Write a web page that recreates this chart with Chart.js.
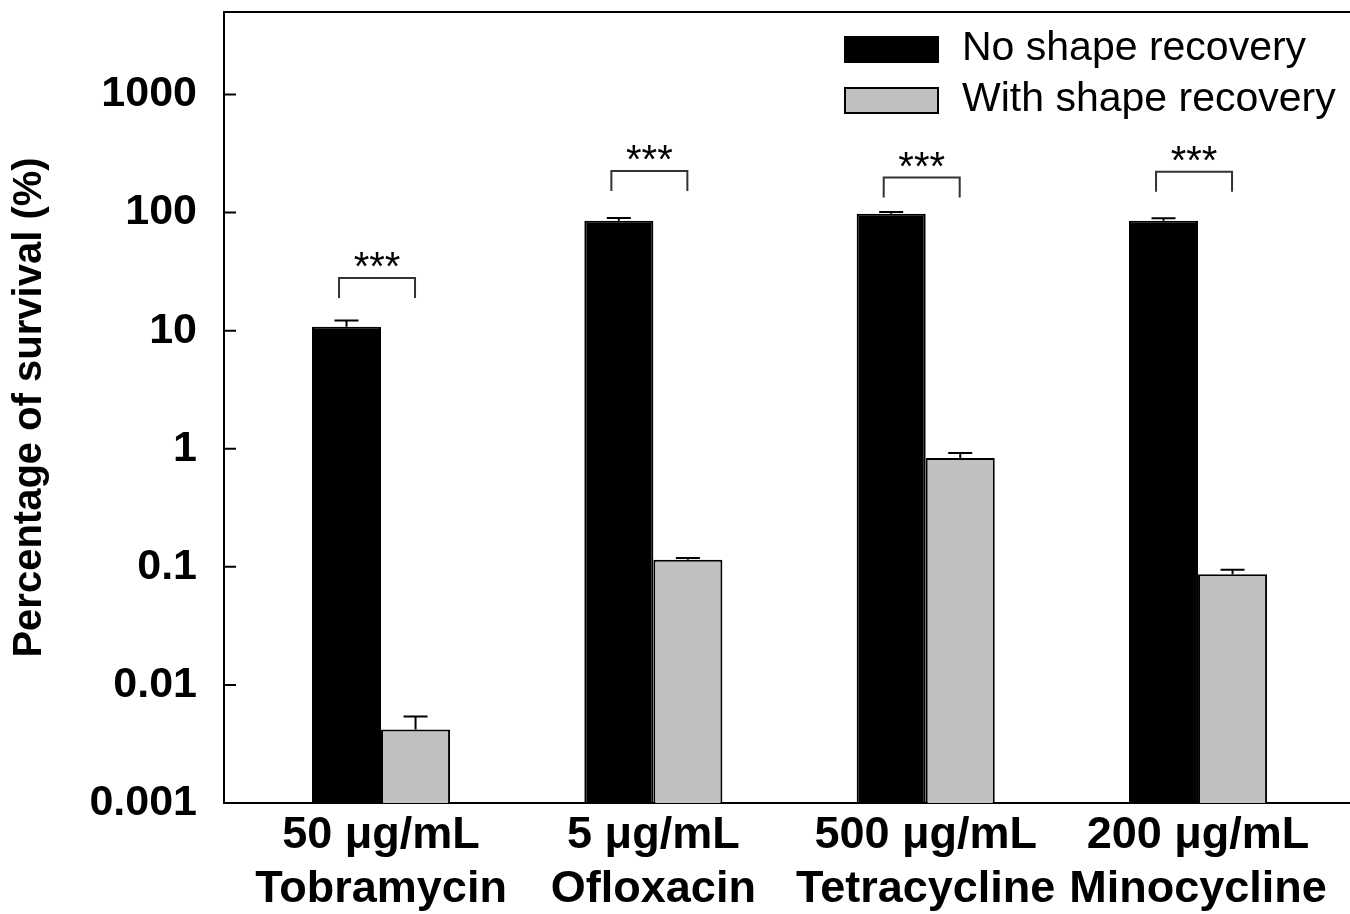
<!DOCTYPE html>
<html>
<head>
<meta charset="utf-8">
<script src="https://cdn.jsdelivr.net/npm/chart.js@4.4.1/dist/chart.umd.min.js"></script>
<style>
  html, body { margin: 0; padding: 0; background: #fff; }
  #wrap { width: 1350px; height: 914px; }
</style>
</head>
<body>
<div id="wrap"><canvas id="survival_plot"></canvas></div>
<script>
'use strict';

// Data
const doses = ['50 μg/mL', '5 μg/mL', '500 μg/mL', '200 μg/mL'];
const drugs = ['Tobramycin', 'Ofloxacin', 'Tetracycline', 'Minocycline'];
const positions = [1, 2, 3, 4];

const noRecovery = [10.8, 85.5, 98, 85.5];
const noRecoveryErr = [1.4, 4.5, 3.4, 4.3];
const withRecovery = [0.0042, 0.115, 0.834, 0.0867];
const withRecoveryErr = [0.0012, 0.004, 0.086, 0.0077];

// significance brackets (height in % survival)
const bracketLevels = [28, 225, 198, 222];
const significance = ['***', '***', '***', '***'];

const yTicks = [0.001, 0.01, 0.1, 1, 10, 100, 1000];
const legendLabels = ['No shape recovery', 'With shape recovery'];
const barColors = ['#000000', '#c0c0c0'];

const FONT = '"Liberation Sans", Arial, sans-serif';

// error bars, brackets, inward ticks, top frame and legend
const extras = {
    id: 'extras',
    afterDatasetsDraw(chart) {
        const ctx = chart.ctx;
        const area = chart.chartArea;
        const xs = chart.scales.x;
        const ys = chart.scales.y;
        ctx.save();
        ctx.strokeStyle = '#000';
        ctx.lineWidth = 2;

        // error bars
        [noRecoveryErr, withRecoveryErr].forEach((errs, di) => {
            const meta = chart.getDatasetMeta(di);
            const vals = chart.data.datasets[di].data;
            meta.data.forEach((bar, i) => {
                const top = ys.getPixelForValue(vals[i].y + errs[i]);
                ctx.beginPath();
                ctx.moveTo(bar.x, bar.y);
                ctx.lineTo(bar.x, top);
                ctx.moveTo(bar.x - 12, top);
                ctx.lineTo(bar.x + 12, top);
                ctx.stroke();
            });
        });

        // brackets + stars
        ctx.strokeStyle = '#333';
        ctx.fillStyle = '#000';
        ctx.font = '40px ' + FONT;
        ctx.textAlign = 'center';
        ctx.textBaseline = 'alphabetic';
        positions.forEach((p, i) => {
            const cx = xs.getPixelForValue(p) - 4;
            const by = ys.getPixelForValue(bracketLevels[i]);
            ctx.beginPath();
            ctx.moveTo(cx - 38, by + 20);
            ctx.lineTo(cx - 38, by);
            ctx.lineTo(cx + 38, by);
            ctx.lineTo(cx + 38, by + 20);
            ctx.stroke();
            ctx.fillText(significance[i], cx, by + 2);
        });

        // inward ticks on y axis
        ctx.strokeStyle = '#000';
        ctx.beginPath();
        yTicks.forEach(v => {
            const py = ys.getPixelForValue(v);
            ctx.moveTo(area.left, py);
            ctx.lineTo(area.left + 12, py);
        });
        // top frame
        ctx.moveTo(area.left - 1, area.top);
        ctx.lineTo(area.right, area.top);
        ctx.stroke();

        // legend
        ctx.font = '41px ' + FONT;
        ctx.textAlign = 'left';
        ctx.textBaseline = 'middle';
        legendLabels.forEach((label, i) => {
            const bx = area.right - 505;
            const byTop = area.top + 25 + i * 51;
            ctx.fillStyle = barColors[i];
            ctx.fillRect(bx, byTop, 93, 25);
            ctx.strokeRect(bx, byTop, 93, 25);
            ctx.fillStyle = '#000';
            ctx.fillText(label, area.right - 388, byTop + 12);
        });
        ctx.restore();
    }
};

const datasets = [
    {
        label: legendLabels[0],
        data: positions.map((x, i) => ({ x: x, y: noRecovery[i] })),
        backgroundColor: barColors[0],
        borderColor: '#000',
        borderWidth: 2
    },
    {
        label: legendLabels[1],
        data: positions.map((x, i) => ({ x: x, y: withRecovery[i] })),
        backgroundColor: barColors[1],
        borderColor: '#000',
        borderWidth: 2
    }
];

const config = {
    type: 'bar',
    data: { datasets: datasets },
    options: {
        responsive: true,
        maintainAspectRatio: false,
        animation: false,
        devicePixelRatio: 1,
        layout: { padding: { top: 12, left: 0, right: 0, bottom: 0 } },
        datasets: {
            bar: { barPercentage: 1, categoryPercentage: 0.507, borderSkipped: 'bottom' }
        },
        plugins: {
            legend: { display: false },
            tooltip: { enabled: false }
        },
        scales: {
            x: {
                type: 'linear',
                min: 0.4234,
                max: 4.558,
                offset: false,
                grid: { display: false, offset: false, drawTicks: false },
                border: { display: true, color: '#000', width: 2 },
                afterBuildTicks: s => { s.ticks = positions.map(v => ({ value: v })); },
                afterFit: s => { s.height = 111; s.paddingLeft = 0; s.paddingRight = 0; },
                ticks: {
                    autoSkip: false,
                    maxRotation: 0,
                    padding: 6,
                    color: '#000',
                    font: { family: FONT, size: 45, weight: 'bold', lineHeight: 1.2 },
                    callback: v => {
                        const i = positions.indexOf(v);
                        return i < 0 ? null : [doses[i], drugs[i]];
                    }
                }
            },
            y: {
                type: 'logarithmic',
                min: 0.001,
                max: 5000,
                grid: { display: false, drawTicks: false },
                border: { display: true, color: '#000', width: 2 },
                afterBuildTicks: s => { s.ticks = yTicks.map(v => ({ value: v })); },
                afterFit: s => { s.width = 224; s.paddingTop = 0; s.paddingBottom = 0; },
                ticks: {
                    padding: 27,
                    color: '#000',
                    font: { family: FONT, size: 43, weight: 'bold' },
                    callback: v => String(v)
                },
                title: {
                    display: true,
                    text: 'Percentage of survival (%)',
                    color: '#000',
                    padding: { top: 6, bottom: 0 },
                    font: { family: FONT, size: 40, weight: 'bold' }
                }
            }
        }
    },
    plugins: [extras]
};

new Chart(document.getElementById('survival_plot'), config);
</script>
</body>
</html>
